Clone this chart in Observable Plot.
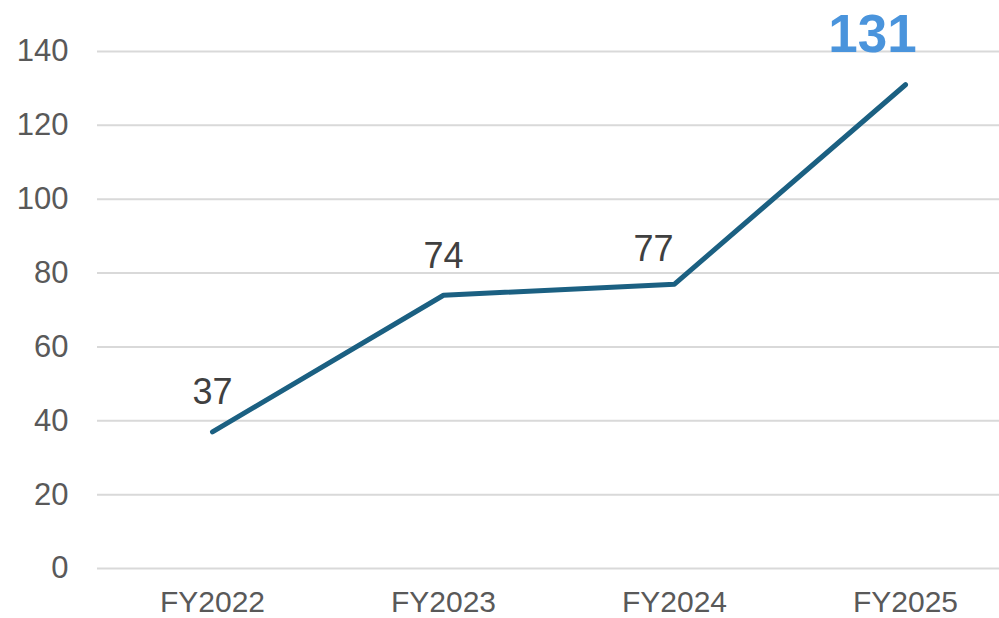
<!DOCTYPE html>
<html>
<head>
<meta charset="utf-8">
<script src="https://cdn.jsdelivr.net/npm/d3@7"></script>
<script src="https://cdn.jsdelivr.net/npm/@observablehq/plot@0.6"></script>
<style>
  html, body { margin: 0; padding: 0; background: #ffffff; }
  #chart { width: 999px; height: 618px; }
</style>
</head>
<body>
<div id="chart"></div>
<script>
const years = ["FY2022", "FY2023", "FY2024", "FY2025"];
const values = [37, 74, 77, 131];
const yTicks = [0, 20, 40, 60, 80, 100, 120, 140];

const data = years.map((year, i) => ({ year, value: values[i], i }));
const last = data.length - 1;

const font = "'Liberation Sans', Arial, Helvetica, sans-serif";

const chart = Plot.plot({
  width: 999,
  height: 618,
  marginLeft: 97,
  marginRight: 0,
  marginTop: 51,
  marginBottom: 50,
  style: { fontFamily: font, background: "#ffffff", overflow: "visible" },
  x: { type: "point", domain: years, range: [212, 905], padding: 0, label: null },
  y: { domain: [0, 140], label: null },
  marks: [
    Plot.ruleY(yTicks, { stroke: "#d9d9d9", strokeWidth: 2 }),
    Plot.axisY({
      ticks: yTicks,
      tickSize: 0,
      tickPadding: 29,
      fontSize: 31,
      fill: "#595959",
      label: null
    }),
    Plot.axisX({
      tickSize: 0,
      tickPadding: 22,
      fontSize: 30,
      fill: "#595959",
      label: null
    }),
    Plot.line(data, {
      x: "year",
      y: "value",
      stroke: "#1b6082",
      strokeWidth: 5,
      strokeLinecap: "round",
      strokeLinejoin: "round"
    }),
    Plot.text(data, {
      filter: d => d.i < 2,
      x: "year",
      y: "value",
      text: d => String(d.value),
      dy: -39,
      fontSize: 36,
      fill: "#404040"
    }),
    Plot.text(data, {
      filter: d => d.i === 2,
      x: "year",
      y: "value",
      text: d => String(d.value),
      dy: -35,
      dx: -21,
      fontSize: 36,
      fill: "#404040"
    }),
    Plot.text(data, {
      filter: d => d.i === last,
      x: "year",
      y: "value",
      text: d => String(d.value),
      dy: -50,
      dx: -33,
      fontSize: 53,
      fontWeight: "bold",
      fill: "#4a94dc"
    })
  ]
});

document.getElementById("chart").appendChild(chart);
</script>
</body>
</html>
